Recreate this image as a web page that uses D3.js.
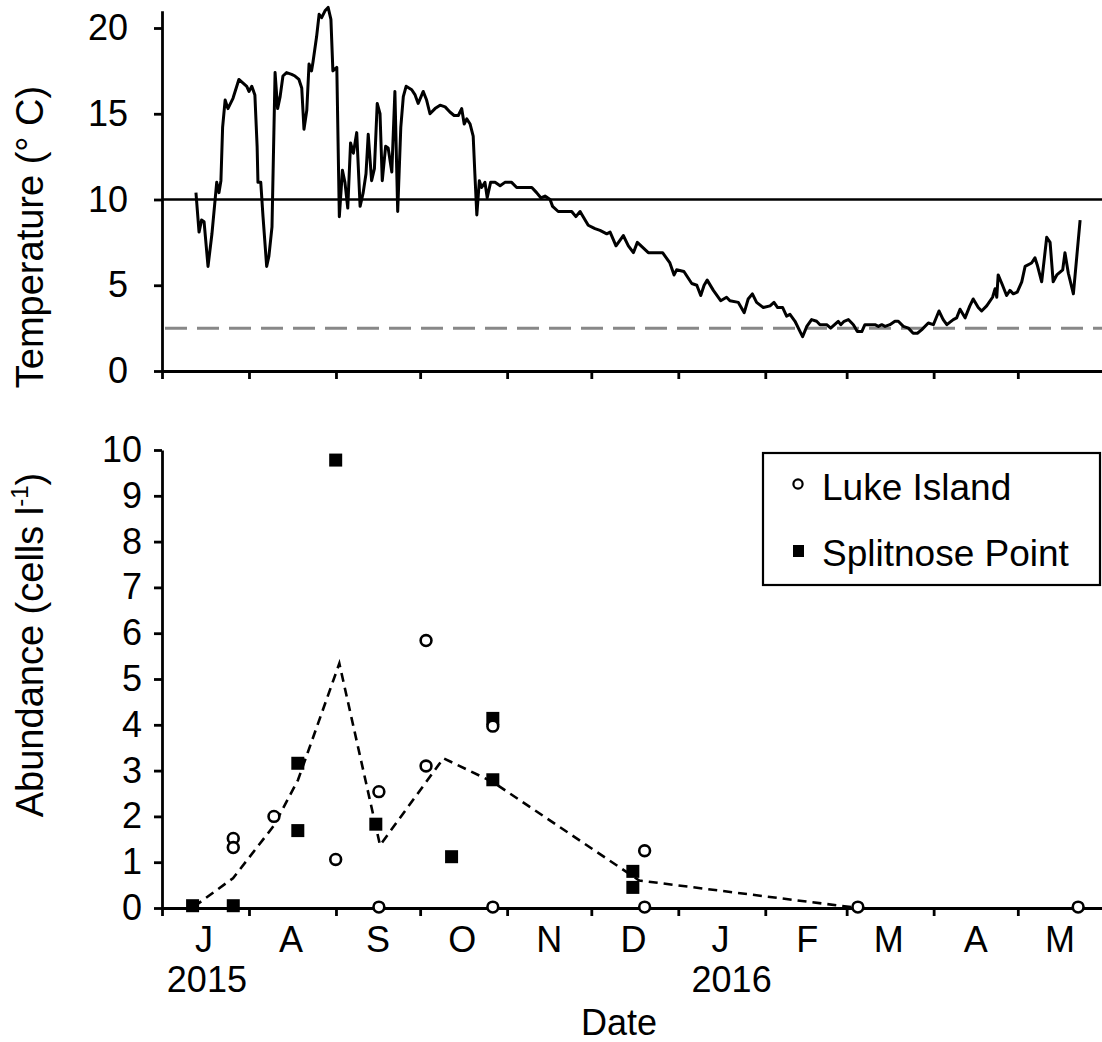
<!DOCTYPE html>
<html><head><meta charset="utf-8">
<script src="https://cdn.jsdelivr.net/npm/d3@7/dist/d3.min.js"></script>
<style>
html,body{margin:0;padding:0;background:#fff;}
svg text{font-family:"Liberation Sans",Arial,sans-serif;fill:#000;}
</style></head>
<body>
<svg id="chart" width="1102" height="1042"></svg>
<script>
// ---- DATA ----
// days after 2015-07-01
const tempDays = [12.1,13.2,14.1,15.0,16.4,17.8,19.5,20.3,21.0,21.6,22.5,23.5,25.3,27.4,30.2,31.0,32.0,33.1,33.9,34.2,35.2,36.0,37.3,38.1,39.2,40.3,41.2,42.1,43.1,44.4,46.2,47.4,48.8,49.8,50.6,51.6,52.4,53.3,53.8,55.1,56.0,56.9,58.1,59.2,60.2,60.9,62.3,63.2,64.3,65.2,66.2,67.2,68.2,69.4,70.6,71.7,72.7,73.5,74.7,75.7,76.7,77.7,78.5,79.7,80.6,81.9,83.0,84.0,85.1,86.0,87.0,89.0,90.2,91.3,93.1,94.3,95.5,97.3,99.1,100.9,102.6,104.1,105.6,106.8,107.7,108.6,109.8,110.9,111.5,112.2,113.1,113.9,115.1,115.9,117.1,118.7,120.5,122.2,124.6,126.4,131.8,133.5,135.0,136.5,138.3,139.2,141.2,146.0,147.5,149.0,150.1,151.9,154.3,156.1,158.5,159.7,161.8,164.4,166.2,168.0,169.4,173.3,178.4,181.0,182.5,183.4,186.0,188.8,190.6,192.0,193.2,194.3,196.5,199.1,201.2,202.4,205.4,207.5,208.9,210.4,211.9,214.3,216.7,218.1,219.4,221.2,222.6,223.8,225.6,227.4,228.3,229.8,231.5,233.3,234.5,236.9,238.3,241.0,241.9,243.1,244.6,246.4,247.8,249.4,250.5,254.1,255.3,256.5,257.7,259.4,261.2,262.4,264.2,266.0,267.7,269.2,270.7,273.1,274.9,276.9,278.4,279.7,282.0,283.2,284.4,286.2,287.9,289.1,290.9,292.1,293.9,296.0,296.9,297.5,298.0,299.3,301.0,302.2,303.4,304.8,306.4,307.6,309.9,311.1,311.9,313.5,315.3,316.5,317.6,318.9,321.0,321.8,323.0,324.8,327.2];
const tempValues = [10.4,8.1,8.8,8.7,6.1,8.0,11.0,10.4,11.1,14.2,15.8,15.3,15.9,17.0,16.6,16.3,16.6,16.1,13.1,11.0,11.0,9.0,6.1,6.7,8.4,17.4,15.3,16.0,17.2,17.4,17.3,17.2,17.0,16.5,14.1,15.2,17.9,17.5,18.0,19.5,20.8,20.6,21.0,21.2,20.5,17.5,17.7,9.0,11.7,11.0,9.5,13.3,12.7,13.9,9.6,10.4,11.5,13.8,11.1,11.8,15.6,15.0,11.1,13.1,13.0,11.6,16.3,9.3,14.2,16.0,16.6,16.4,16.1,15.6,16.3,15.8,15.0,15.3,15.5,15.4,15.1,14.9,14.9,15.3,14.4,14.7,14.4,13.7,11.5,9.1,11.1,10.7,11.0,10.1,11.0,11.0,10.8,11.0,11.0,10.7,10.7,10.4,10.1,10.2,10.0,9.6,9.3,9.3,9.0,9.3,9.0,8.5,8.3,8.2,8.0,8.1,7.3,7.9,7.3,6.9,7.5,6.9,6.9,6.3,5.6,5.9,5.8,5.1,5.0,4.4,5.0,5.3,4.7,4.1,4.3,4.1,4.0,3.4,4.2,4.5,4.0,3.7,3.8,4.0,3.7,3.7,3.2,3.3,2.9,2.3,2.0,2.6,3.0,2.9,2.7,2.7,2.5,2.9,2.7,2.9,3.0,2.7,2.3,2.3,2.7,2.7,2.6,2.7,2.6,2.7,2.9,2.9,2.6,2.5,2.2,2.2,2.4,2.8,2.7,3.5,3.0,2.7,3.0,3.1,3.6,3.1,3.8,4.2,3.7,3.5,3.8,4.3,4.8,4.3,5.6,5.1,4.4,4.7,4.5,4.6,5.2,6.1,6.3,6.6,6.2,5.2,7.8,7.5,5.2,5.6,5.9,6.9,5.7,4.5,8.8];
const tempThreshold = 10;
const tempMinimum = 2.5;

const lukeDays   = [25.4,25.4,39.9,61.9,77.3,77.3,94.1,94.1,117.9,117.9,172.0,172.0,248.0,326.5];
const lukeValues = [1.52,1.32,2.0,1.06,2.54,0.02,5.84,3.1,3.97,0.02,1.25,0.02,0.02,0.02];
const splitDays   = [10.9,25.4,48.4,48.4,61.9,76.2,103.2,117.9,117.9,167.8,167.8];
const splitValues = [0.05,0.05,3.16,1.69,9.78,1.83,1.12,4.14,2.8,0.8,0.45];
const meanDays   = [11.4,25.3,39.9,48.5,63.2,77.7,100.3,117.9,170.1,248.0];
const meanValues = [0.03,0.65,1.8,2.8,5.34,1.37,3.27,2.75,0.6,0.0];

const monthLabels = ["J","A","S","O","N","D","J","F","M","A","M"];
const yearLabels = ["2015","2016"];
const tempTicks = [0,5,10,15,20];
const abundTicks = [0,1,2,3,4,5,6,7,8,9,10];
const legendLabels = ["Luke Island","Splitnose Point"];

// ---- SETUP ----
const start = Date.UTC(2015,6,1);
const toDate = d => new Date(start + d*864e5);
const svg = d3.select("#chart");
const FS = 36;
const TFS = 38;

const x = d3.scaleUtc().domain([new Date(Date.UTC(2015,6,1)), new Date(Date.UTC(2016,4,31))]).range([162,1102]);
const yT = d3.scaleLinear().domain([0,21]).range([371,10.85]);
const yA = d3.scaleLinear().domain([0,10]).range([908,450]);
const months = d3.utcMonth.range(new Date(Date.UTC(2015,6,1)), new Date(Date.UTC(2016,5,1)));

function styleAxis(g){
  g.selectAll("path.domain").attr("stroke","#000").attr("stroke-width",2.8);
  g.selectAll(".tick line").attr("stroke","#000").attr("stroke-width",2.8);
  g.selectAll(".tick text").attr("font-size",FS).attr("font-family","Liberation Sans, Arial, sans-serif").attr("fill","#000");
}

// ---- TOP PANEL ----
svg.append("line").attr("x1",x.range()[0]).attr("x2",x.range()[1])
  .attr("y1",yT(tempThreshold)).attr("y2",yT(tempThreshold))
  .attr("stroke","#000").attr("stroke-width",2.6);
svg.append("line").attr("x1",x.range()[0]+3).attr("x2",x.range()[1])
  .attr("y1",yT(tempMinimum)).attr("y2",yT(tempMinimum))
  .attr("stroke","#888").attr("stroke-width",3).attr("stroke-dasharray","22,10");

const tempData = tempDays.map((d,i)=>({date:toDate(d), v:tempValues[i]}));
svg.append("path").datum(tempData)
  .attr("fill","none").attr("stroke","#000").attr("stroke-width",3).attr("stroke-linejoin","round")
  .attr("d", d3.line().x(d=>x(d.date)).y(d=>yT(d.v)));

svg.append("g").attr("transform",`translate(0,${yT(0)})`)
  .call(d3.axisBottom(x).tickValues(months).tickSize(8).tickSizeOuter(0).tickFormat(""))
  .call(styleAxis);
svg.append("g").attr("transform",`translate(${x.range()[0]},0)`)
  .call(d3.axisLeft(yT).tickValues(tempTicks).tickSize(8).tickSizeOuter(0).tickPadding(26))
  .call(styleAxis);

svg.append("text").attr("transform",`translate(43,237) rotate(-90)`)
  .attr("text-anchor","middle").attr("font-size",TFS).text("Temperature (° C)");

// ---- BOTTOM PANEL ----
const meanData = meanDays.map((d,i)=>({date:toDate(d), v:meanValues[i]}));
svg.append("path").datum(meanData)
  .attr("fill","none").attr("stroke","#000").attr("stroke-width",2.6).attr("stroke-dasharray","9,6")
  .attr("d", d3.line().x(d=>x(d.date)).y(d=>yA(d.v)));

svg.append("g").attr("transform",`translate(0,${yA(0)})`)
  .call(d3.axisBottom(x).tickValues(months).tickSize(8).tickSizeOuter(0).tickFormat(""))
  .call(styleAxis);
svg.append("g").attr("transform",`translate(${x.range()[0]},0)`)
  .call(d3.axisLeft(yA).tickValues(abundTicks).tickSize(8).tickSizeOuter(0).tickPadding(12))
  .call(styleAxis);

const SQ = 13;
svg.append("g").selectAll("rect").data(splitDays.map((d,i)=>({date:toDate(d), v:splitValues[i]})))
  .join("rect").attr("x",d=>x(d.date)-SQ/2).attr("y",d=>yA(d.v)-SQ/2)
  .attr("width",SQ).attr("height",SQ).attr("fill","#000");
svg.append("g").selectAll("circle").data(lukeDays.map((d,i)=>({date:toDate(d), v:lukeValues[i]})))
  .join("circle").attr("cx",d=>x(d.date)).attr("cy",d=>yA(d.v)).attr("r",5.4)
  .attr("fill","#fff").attr("stroke","#000").attr("stroke-width",2.6);

svg.append("g").selectAll("text").data(months)
  .join("text").attr("x",d=>x(new Date(+d + 15*864e5))).attr("y",952)
  .attr("text-anchor","middle").attr("font-size",FS).text((d,i)=>monthLabels[i]);
svg.append("text").attr("x",x(toDate(16))).attr("y",992).attr("text-anchor","middle").attr("font-size",FS).text(yearLabels[0]);
svg.append("text").attr("x",x(toDate(203))).attr("y",992).attr("text-anchor","middle").attr("font-size",FS).text(yearLabels[1]);
svg.append("text").attr("x",619).attr("y",1035).attr("text-anchor","middle").attr("font-size",FS).text("Date");

const ab = svg.append("text").attr("transform",`translate(43,645) rotate(-90)`)
  .attr("text-anchor","middle").attr("font-size",TFS);
ab.append("tspan").text("Abundance (cells l");
ab.append("tspan").attr("font-size",24).attr("dy",-15).text("-1");
ab.append("tspan").attr("dy",15).text(")");

// legend
const lg = svg.append("g");
lg.append("rect").attr("x",763).attr("y",453).attr("width",337).attr("height",132)
  .attr("fill","#fff").attr("stroke","#000").attr("stroke-width",2.2);
lg.append("circle").attr("cx",798).attr("cy",484).attr("r",4.6).attr("fill","#fff").attr("stroke","#000").attr("stroke-width",2.2);
lg.append("rect").attr("x",793).attr("y",545).attr("width",11).attr("height",12).attr("fill","#000");
lg.append("text").attr("x",822).attr("y",500).attr("font-size",37).text(legendLabels[0]);
lg.append("text").attr("x",822).attr("y",566).attr("font-size",37).text(legendLabels[1]);
</script>
</body></html>
